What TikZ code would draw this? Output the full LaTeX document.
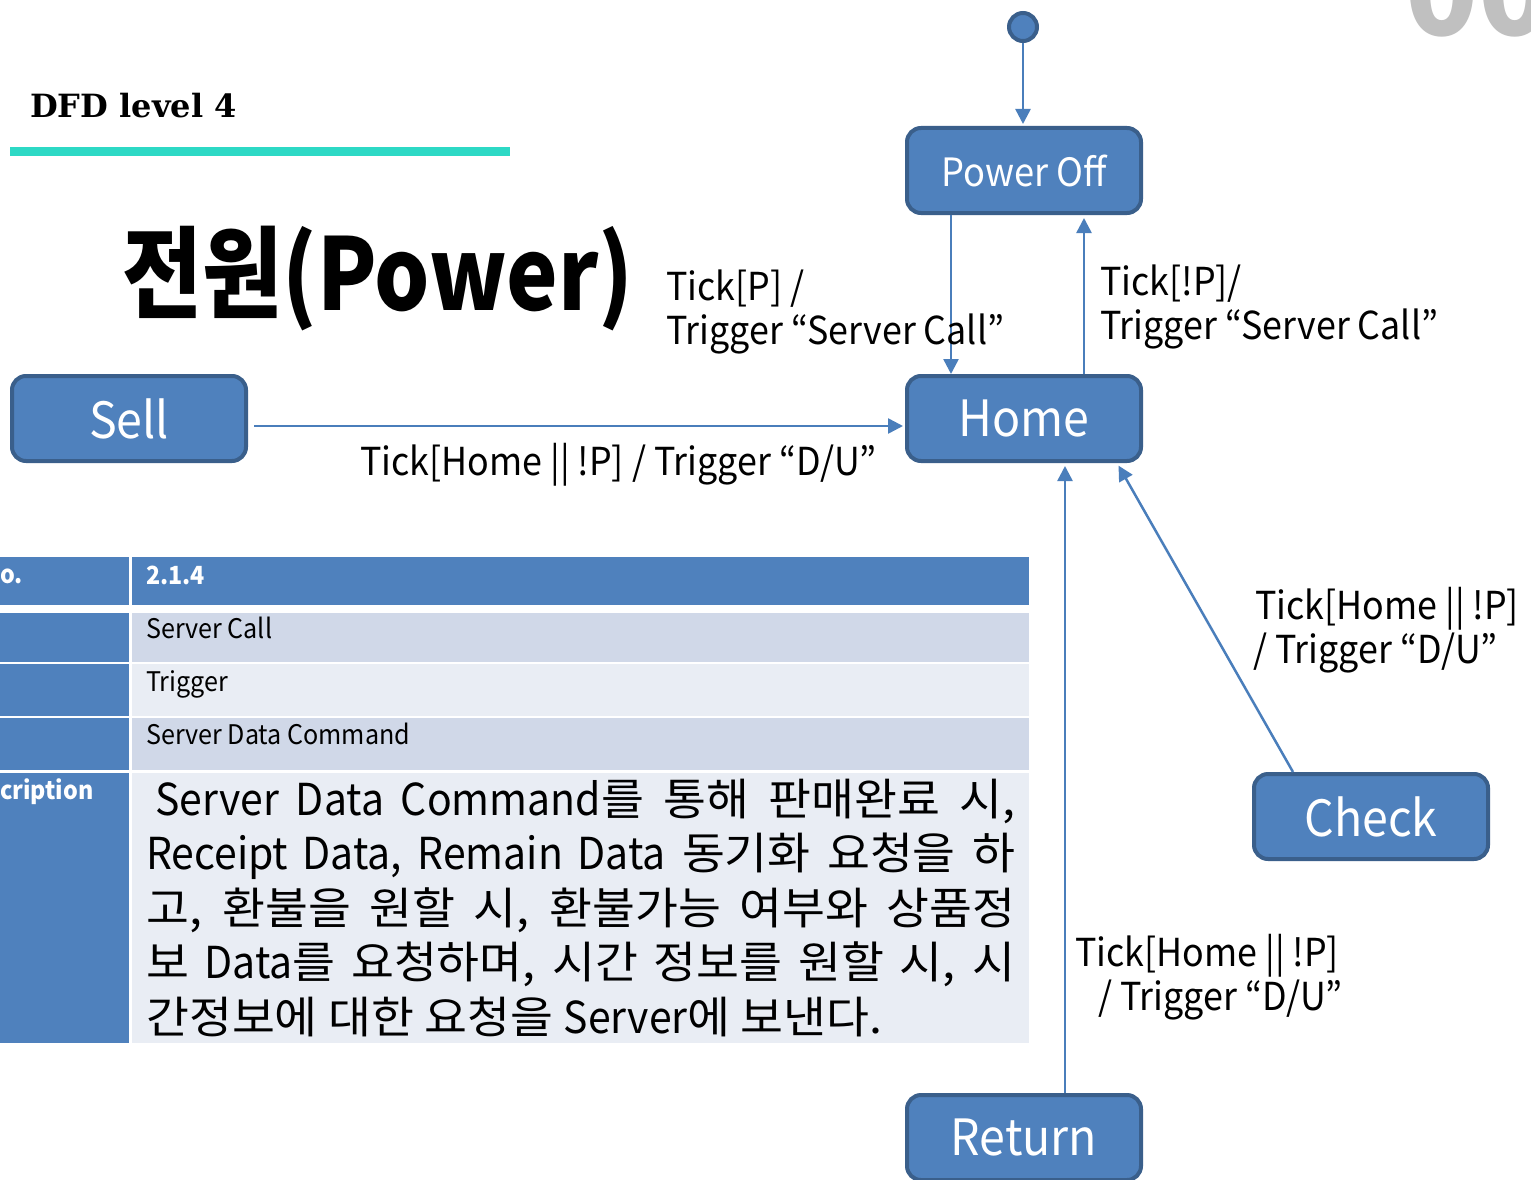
\documentclass[tikz,border=0pt]{standalone}
\usepackage{fontspec}
\usepackage{graphicx}
\setmainfont[FakeStretch=0.93]{Noto Sans CJK KR}
\newfontfamily\hangulfont[FakeStretch=1.06]{Noto Sans CJK KR}
\newfontfamily\plainfont{Noto Sans CJK KR}
\newfontfamily\slabfont{DejaVu Serif}
\newcommand\lat[1]{{\normalfont #1}}
\usetikzlibrary{arrows.meta}

\definecolor{boxfill}{HTML}{4F81BD}
\definecolor{boxline}{HTML}{3A5F8B}
\definecolor{flowline}{HTML}{4A7EBB}
\definecolor{rowdark}{HTML}{D0D8E8}
\definecolor{rowlight}{HTML}{E9EDF4}
\definecolor{barteal}{HTML}{2DD9C5}
\definecolor{ghostgray}{HTML}{C0C0C0}

\tikzset{
  state/.style={rectangle, rounded corners=14pt, fill=boxfill, draw=boxline,
    line width=4pt, text=white, minimum width=234pt, minimum height=85pt,
    inner sep=0pt, font=\fontsize{50}{58}\selectfont},
  flow/.style={draw=flowline, line width=2.5pt, -{Triangle[length=15pt,width=15pt]}},
  lbl/.style={anchor=base west, inner sep=0pt, font=\fontsize{38.5}{45}\selectfont},
  cell/.style={anchor=base west, inner sep=0pt, font=\fontsize{27}{32}\selectfont},
  headcell/.style={cell, text=white, font=\fontsize{25}{30}\selectfont\bfseries},
  desc/.style={anchor=base west, inner sep=0pt, font=\hangulfont\fontsize{44}{54}\selectfont},
}

\begin{document}
\begin{tikzpicture}[x=1pt,y=-1pt]
\useasboundingbox (0,0) rectangle (1531,1180);
\clip (0,0) rectangle (1531,1180);
\fill[white] (0,0) rectangle (1531,1180);

% page heading
\node[anchor=base west, inner sep=0pt, text=ghostgray] (pagenum) at (1405,36)
  {\plainfont\fontsize{120}{120}\selectfont\bfseries 00};
\node[anchor=base west, inner sep=0pt] (heading) at (30,118)
  {\slabfont\bfseries\fontsize{32}{36}\selectfont DFD level 4};
\fill[barteal] (10,147) rectangle (510,156);
\node[anchor=base west, inner sep=0pt] (title) at (122,310)
  {\scalebox{0.87}[1]{\plainfont\fontsize{100}{100}\selectfont\bfseries 전원(Power)}};

% process description table
\fill[boxfill] (-5,557) rectangle (129,605);
\fill[boxfill] (132,557) rectangle (1029,605);
\fill[boxfill] (-5,613) rectangle (129,662);
\fill[rowdark] (132,613) rectangle (1029,662);
\fill[boxfill] (-5,664) rectangle (129,716);
\fill[rowlight] (132,664) rectangle (1029,716);
\fill[boxfill] (-5,718) rectangle (129,770);
\fill[rowdark] (132,718) rectangle (1029,770);
\fill[boxfill] (-5,773) rectangle (129,1043);
\fill[rowlight] (132,773) rectangle (1029,1043);

\node[headcell] (nolabel) at (0,583) {o.};
\node[headcell] (novalue) at (146,584) {2.1.4};
\node[cell] (namevalue) at (146,638) {Server Call};
\node[cell] (typevalue) at (146,691) {Trigger};
\node[cell] (datavalue) at (146,744) {Server Data Command};
\node[headcell] (desclabel) at (0,799) {cription};

\node[desc] (d1) at (155,815) {\makebox[860pt][s]{\lat{Server Data Command}를 통해 판매완료 시,}};
\node[desc] (d2) at (146,869.5) {\makebox[869pt][s]{\lat{Receipt Data, Remain Data} 동기화 요청을 하}};
\node[desc] (d3) at (146,924) {\makebox[869pt][s]{고, 환불을 원할 시, 환불가능 여부와 상품정}};
\node[desc] (d4) at (146,978.5) {\makebox[869pt][s]{보 \lat{Data}를 요청하며, 시간 정보를 원할 시, 시}};
\node[desc] (d5) at (146,1033) {간정보에 대한 요청을 \lat{Server}에 보낸다.};

% states
\node[circle, fill=boxfill, draw=boxline, line width=4pt, minimum size=28pt, inner sep=0pt] (init) at (1023,27) {};
\node[state, font=\fontsize{39}{45}\selectfont] (poweroff) at (1024,170.5) {Power Off};
\node[state] (home) at (1024,418.5) {Home};
\node[state] (sell) at (129,418.5) {Sell};
\node[state] (check) at (1371,816.5) {Check};
\node[state] (return) at (1024,1137.5) {Return};

% transitions
\draw[flow, shorten >=2pt] (init.south) -- (init.south |- poweroff.north);
\draw[flow] ([xshift=-73pt]poweroff.south) -- ([xshift=-73pt]home.north);
\draw[flow, shorten >=3pt] ([xshift=60pt]home.north) -- ([xshift=60pt]poweroff.south);
\draw[flow, shorten <=6pt, shorten >=2pt] ([yshift=-7.5pt]sell.east) -- ([yshift=-7.5pt]home.west);
\draw[flow, shorten >=3pt] ([xshift=-78pt]check.north) -- ([xshift=93pt]home.south);
\draw[flow, shorten >=3pt] ([xshift=41pt]return.north) -- ([xshift=41pt]home.south);

% transition labels
\node[lbl] (l1a) at (666,300) {Tick[P] /};
\node[lbl] (l1b) at (666,344) {Trigger “Server Call”};
\node[lbl] (l2a) at (1100,295) {Tick[!P]/};
\node[lbl] (l2b) at (1100,339) {Trigger “Server Call”};
\node[lbl] (l3) at (360,475) {Tick[Home || !P] / Trigger “D/U”};
\node[lbl] (l4a) at (1255,619) {Tick[Home || !P]};
\node[lbl] (l4b) at (1253,663) {/ Trigger “D/U”};
\node[lbl] (l5a) at (1075,966) {Tick[Home || !P]};
\node[lbl] (l5b) at (1098,1010) {/ Trigger “D/U”};
\end{tikzpicture}
\end{document}
